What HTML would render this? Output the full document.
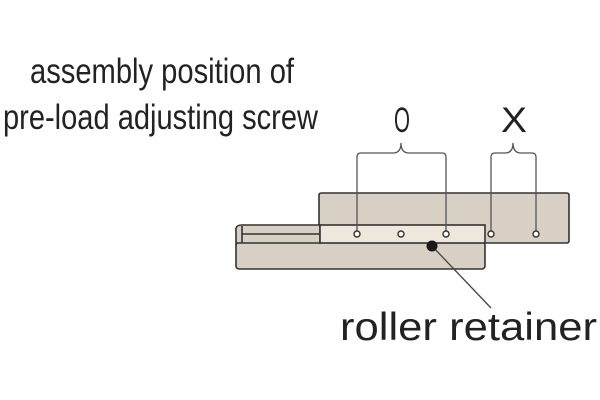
<!DOCTYPE html>
<html><head><style>html,body{margin:0;padding:0;background:#fff}</style></head><body>
<svg width="600" height="400" xmlns="http://www.w3.org/2000/svg" style="display:block">
<g font-family="'Liberation Sans',sans-serif" font-size="35" fill="#222">
<text x="30" y="83" textLength="264" lengthAdjust="spacingAndGlyphs">assembly position of</text>
<text x="3" y="129" textLength="315" lengthAdjust="spacingAndGlyphs">pre-load adjusting screw</text>
<text x="394" y="132" textLength="16" lengthAdjust="spacingAndGlyphs">O</text>
<text x="501" y="132" textLength="26" lengthAdjust="spacingAndGlyphs">X</text>
<text x="340" y="340" font-size="39" textLength="257" lengthAdjust="spacingAndGlyphs">roller retainer</text>
</g>
<g stroke="#333" stroke-width="1.6" fill="#d8cfc5">
<rect x="319" y="193" width="250" height="50" rx="2"/>
<rect x="236" y="242" width="249" height="27" rx="3"/>
<path d="M236,245 L236,228 Q237,225 242,225 L320,225 L320,243 L236,243 Z"/>
<line x1="242" y1="226" x2="242" y2="243"/>
<line x1="242" y1="234" x2="320" y2="234"/>
<rect x="320" y="225" width="165" height="18" fill="#efe6dc"/>
</g>
<g fill="none" stroke="#555" stroke-width="1.3">
<path d="M357,231 V157 Q357,153 361,153 H393 Q401,153 401,143 Q401,153 409,153 H442 Q446,153 446,157 V231"/>
<path d="M491,231 V157 Q491,153 495,153 H505 Q513,153 513,143 Q513,153 521,153 H532 Q536,153 536,157 V231"/>
<line x1="432" y1="246" x2="491" y2="308" stroke="#444"/>
</g>
<g fill="#fff" stroke="#333" stroke-width="1.4">
<circle cx="357" cy="234" r="3"/><circle cx="401" cy="234" r="3"/><circle cx="446" cy="234" r="3"/>
<circle cx="491" cy="234" r="3"/><circle cx="536" cy="234" r="3"/>
</g>
<circle cx="432" cy="246" r="5.5" fill="#1a1a1a"/>
</svg>
</body></html>
